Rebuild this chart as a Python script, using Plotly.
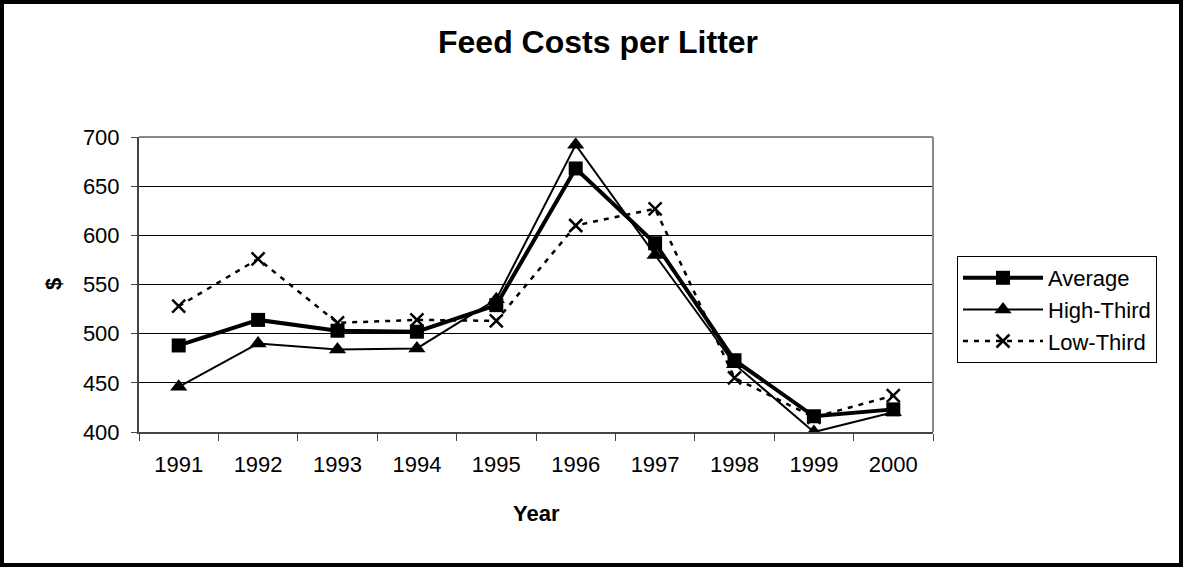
import plotly.graph_objects as go

years = ["1991", "1992", "1993", "1994", "1995", "1996", "1997", "1998", "1999", "2000"]
average = [488, 514, 503, 502, 529, 668, 592, 473, 416, 423]
high_third = [446, 490, 484, 485, 535, 692, 580, 469, 400, 420]
low_third = [528, 576, 511, 514, 513, 610, 627, 455, 415, 437]

W, H = 1183, 567
L, R, T, B = 139, 933, 137, 432
pw, ph = R - L, B - T

def px(x):
    return (x - L) / pw

def py(y):
    return (B - y) / ph

FONT = "Arial, Liberation Sans, sans-serif"

fig = go.Figure()
fig.add_trace(go.Scatter(
    x=years, y=average, name="Average", mode="lines+markers",
    line=dict(color="black", width=4),
    marker=dict(symbol="square", size=14, color="black"),
))
fig.add_trace(go.Scatter(
    x=years, y=high_third, name="High-Third", mode="lines+markers",
    line=dict(color="black", width=2),
    marker=dict(symbol="triangle-up", size=15, color="black"),
))
fig.add_trace(go.Scatter(
    x=years, y=low_third, name="Low-Third", mode="lines+markers",
    line=dict(color="black", width=2.5, dash="5px,6px"),
    marker=dict(symbol="x-thin", size=13, color="black",
                line=dict(color="black", width=2.5)),
))

fig.update_layout(
    width=W, height=H,
    margin=dict(l=L, r=W - R, t=T, b=H - B, pad=0),
    paper_bgcolor="white", plot_bgcolor="white",
    font=dict(family=FONT, size=22, color="black"),
    showlegend=True,
    legend=dict(
        x=px(957), y=py(309.5), xanchor="left", yanchor="middle",
        bordercolor="black", borderwidth=1, bgcolor="white",
        font=dict(family=FONT, size=22, color="black"),
        itemwidth=80, tracegroupgap=0,
    ),
    xaxis=dict(
        type="category", range=[-0.5, len(years) - 0.5],
        tickson="boundaries", ticks="outside", ticklen=7,
        tickcolor="#444", tickwidth=1, showline=True, linecolor="#444", linewidth=2,
        showgrid=False, tickfont=dict(family=FONT, size=22, color="black"),
        fixedrange=True, zeroline=False, ticklabelstandoff=12,
    ),
    yaxis=dict(
        range=[400, 700], dtick=50, tick0=400, ticks="outside", ticklen=6,
        tickcolor="#444", tickwidth=1, showline=True, linecolor="#444", linewidth=2,
        showgrid=True, gridcolor="black", gridwidth=1,
        tickfont=dict(family=FONT, size=22, color="black"),
        fixedrange=True, zeroline=False, ticklabelstandoff=7,
    ),
    annotations=[
        dict(text="<b>Feed Costs per Litter</b>", xref="paper", yref="paper",
             x=px(598), y=py(42), showarrow=False, xanchor="center", yanchor="middle",
             font=dict(family=FONT, size=32, color="black")),
        dict(text="<b>Year</b>", xref="paper", yref="paper",
             x=px(536), y=py(513), showarrow=False, xanchor="center", yanchor="middle",
             font=dict(family=FONT, size=22, color="black")),
        dict(text="<b>$</b>", xref="paper", yref="paper", textangle=-90,
             x=px(53), y=py(284), showarrow=False, xanchor="center", yanchor="middle",
             font=dict(family=FONT, size=22, color="black")),
    ],
    shapes=[
        dict(type="line", xref="paper", yref="paper", x0=0, x1=1, y0=1, y1=1,
             line=dict(color="#888", width=2)),
        dict(type="line", xref="paper", yref="paper", x0=1, x1=1, y0=0, y1=1,
             line=dict(color="#888", width=2)),
        dict(type="rect", xref="paper", yref="paper",
             x0=px(2), x1=px(W - 2), y0=py(H - 2), y1=py(2),
             line=dict(color="black", width=4), fillcolor="rgba(0,0,0,0)", layer="above"),
    ],
)

fig.write_html(
    "out.html",
    config={"displayModeBar": False},
    post_script="document.body.style.margin='0';document.body.style.overflow='hidden';",
)
